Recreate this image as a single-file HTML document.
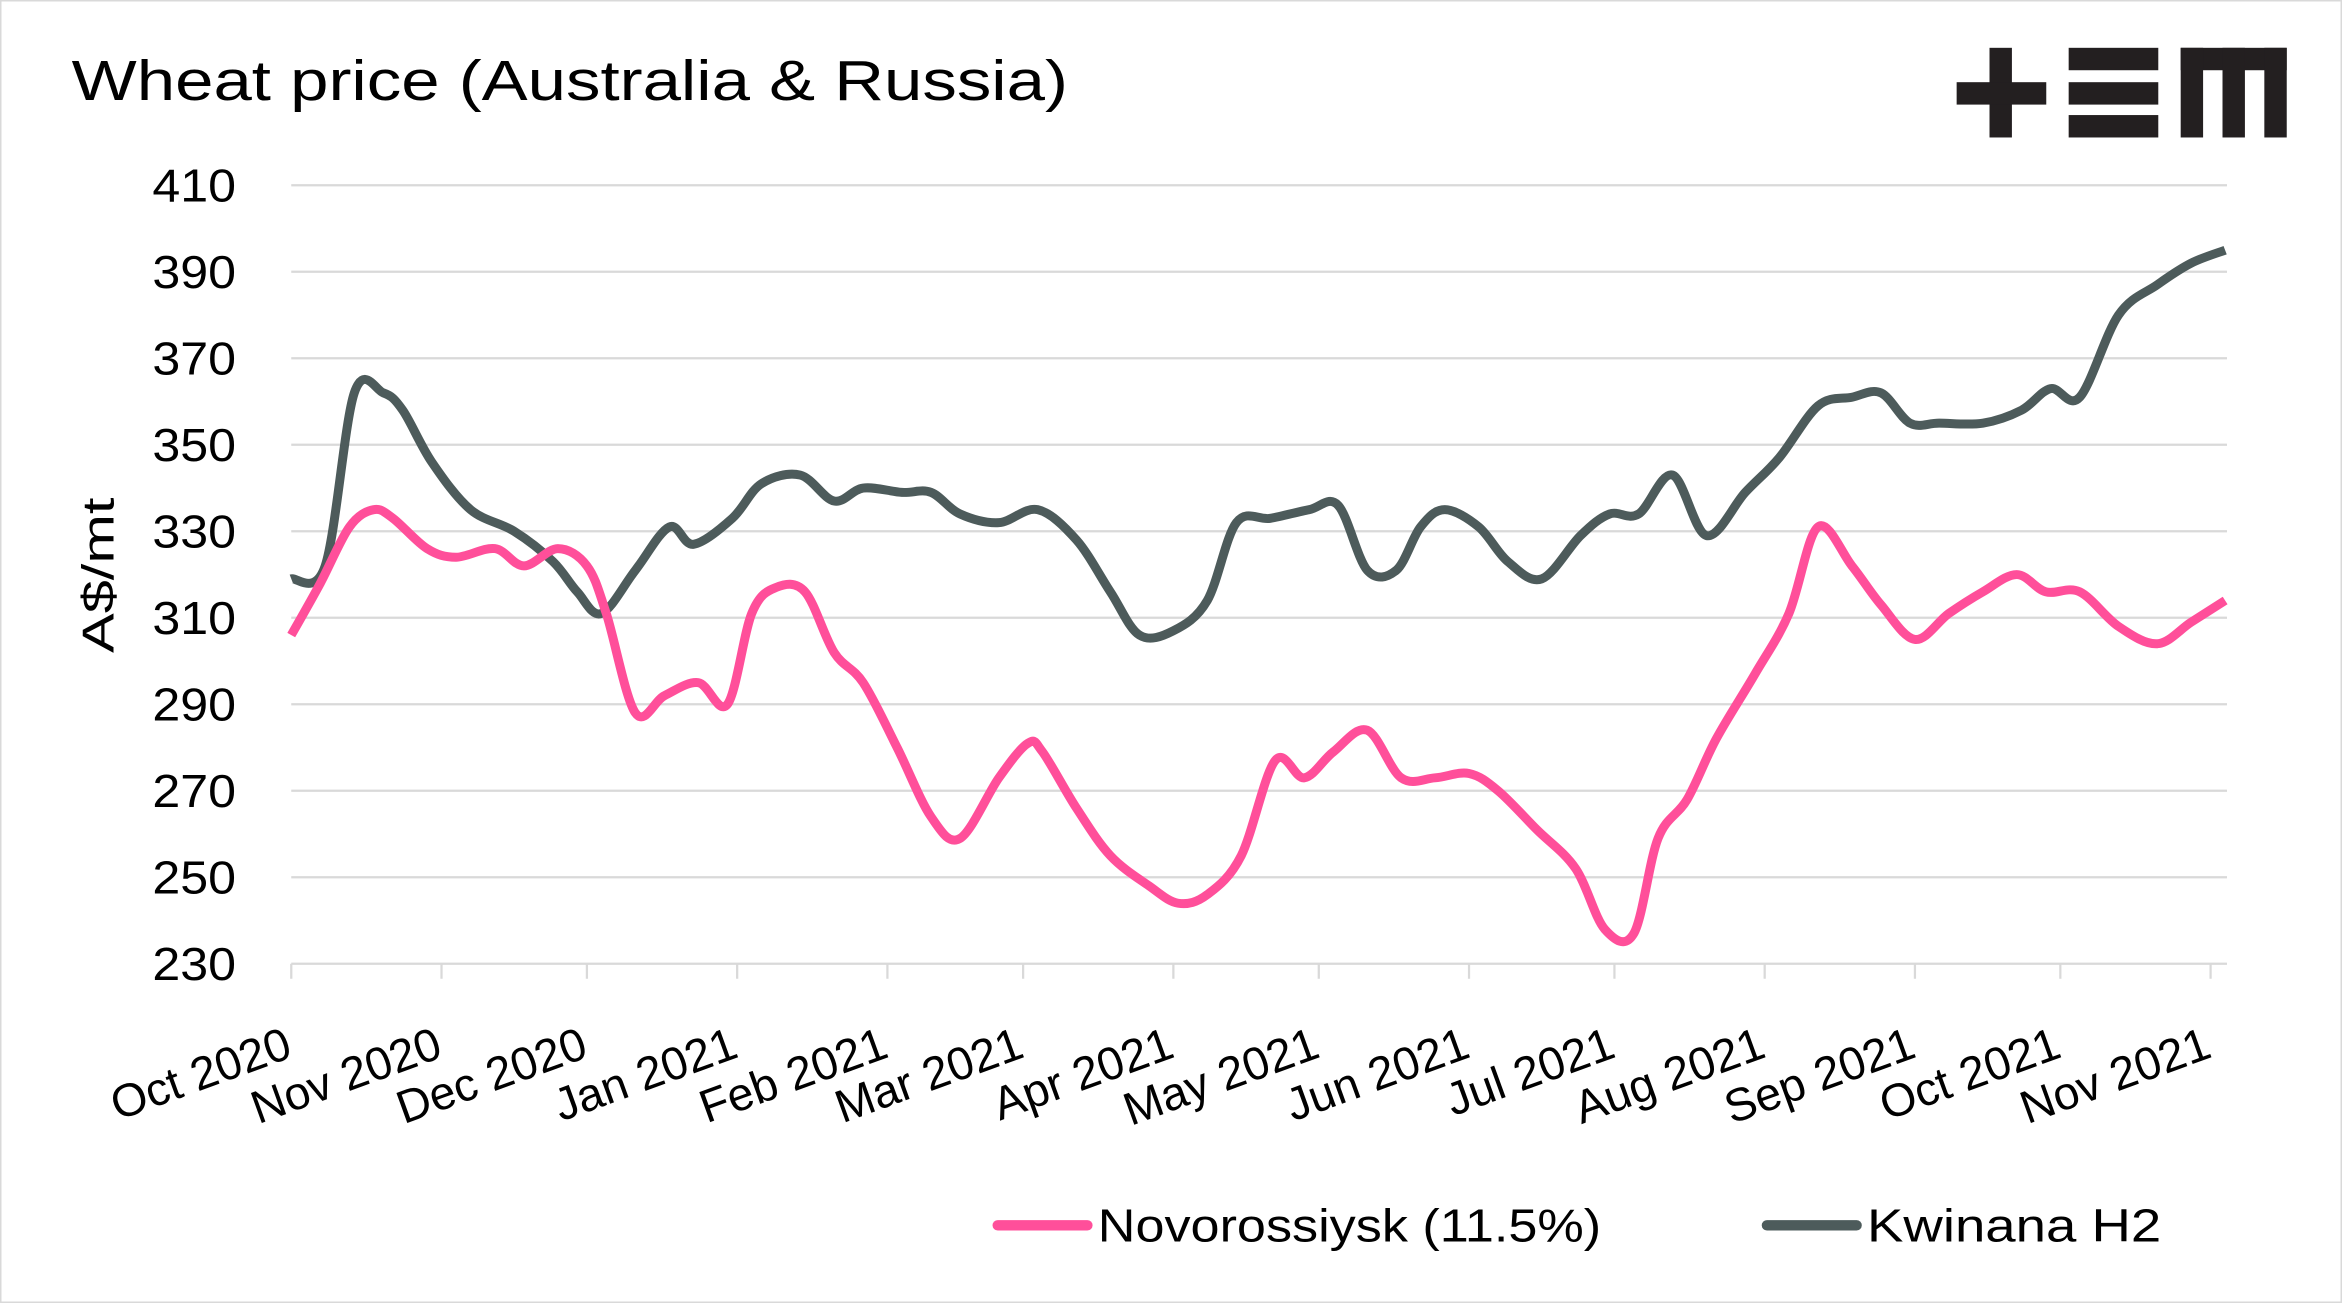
<!DOCTYPE html>
<html><head><meta charset="utf-8"><style>
html,body{margin:0;padding:0;background:#fff}
svg{display:block}
text{font-family:"Liberation Sans",sans-serif;fill:#000}
</style></head><body>
<svg id="chart" width="2342" height="1303" viewBox="0 0 1568 872" preserveAspectRatio="none" xmlns="http://www.w3.org/2000/svg">
<rect x="0.5" y="0.5" width="1567" height="871" fill="#fff" stroke="#d9d9d9"/>
<text x="48" y="67" font-size="38" textLength="667" lengthAdjust="spacingAndGlyphs">Wheat price (Australia &amp; Russia)</text>
<g fill="#231f20">
<rect x="1332" y="32" width="15" height="60"/><rect x="1310" y="55" width="60" height="15"/>
<rect x="1385" y="32" width="60" height="15"/><rect x="1385" y="55" width="60" height="15"/><rect x="1385" y="77" width="60" height="15"/>
<rect x="1460" y="32" width="71" height="15"/><rect x="1460" y="32" width="15" height="60"/><rect x="1488" y="32" width="15" height="60"/><rect x="1516" y="32" width="15" height="60"/>
</g>
<g id="grid"></g><g id="yticks"></g><g id="xaxis"></g><g id="series"></g>
<text transform="translate(76,385) rotate(-90)" text-anchor="middle" font-size="30" textLength="104" lengthAdjust="spacingAndGlyphs">A$/mt</text>
<g>
<g><line x1="668" y1="820" x2="728" y2="820" stroke="#ff4f9a" stroke-width="7" stroke-linecap="round"/><text x="735" y="831" font-size="31" textLength="337" lengthAdjust="spacingAndGlyphs">Novorossiysk (11.5%)</text></g>
<g><line x1="1183" y1="820" x2="1243" y2="820" stroke="#4d5b5b" stroke-width="7" stroke-linecap="round"/><text x="1250" y="831" font-size="31" textLength="197" lengthAdjust="spacingAndGlyphs">Kwinana H2</text></g>
</g>
</svg>
<script>
const yTicks=[230,250,270,290,310,330,350,370,390,410];
const monthLabels=["Oct 2020","Nov 2020","Dec 2020","Jan 2021","Feb 2021","Mar 2021","Apr 2021","May 2021","Jun 2021","Jul 2021","Aug 2021","Sep 2021","Oct 2021","Nov 2021"];
const monthDays=[0,31,61,92,123,151,182,212,243,273,304,335,365,396];
const novoDays=[0,6,12,17,21,28,34,42,48,55,61,65,71,77,84,90,95,100,106,112,118,125,132,138,146,152,155,162,169,177,183,189,196,203,209,215,222,229,236,243,249,257,265,271,277,282,288,294,302,309,315,322,328,335,342,349,356,362,369,377,385,392,399];
const novoVals=[306,318,331,335,333,326,324,326,322,326,322,311,288,292,295,290,311,317,316,302,295,280,264,259,273,281,279,266,255,248,244,246,255,277,273,279,284,273,273,274,270,261,252,238,237,259,268,282,297,311,331,322,313,305,311,316,320,316,316,308,304,309,314];
const kwinDays=[0,7,13,19,23,29,37,46,54,59,64,71,78,83,91,97,105,112,118,126,132,138,146,154,162,169,175,182,189,195,202,210,216,222,228,233,238,245,251,258,266,272,278,285,292,300,307,315,322,328,334,340,349,357,363,369,377,385,392,399];
const kwinVals=[319,322,362,362,358,346,335,330,323,316,311,321,331,327,333,341,343,337,340,339,339,334,332,335,328,316,306,307,314,332,333,335,336,321,321,331,335,331,323,319,329,334,334,343,329,339,347,359,361,362,355,355,355,358,363,361,380,387,392,395];
const NS="http://www.w3.org/2000/svg";
const X0=195,X1=1491,Y0=645,Y1=124;
const xs=d=>X0+d*3.245;
const ys=v=>Y0-(v-230)/(410-230)*(Y0-Y1);
function mk(t,a,p){const e=document.createElementNS(NS,t);for(const k in a)e.setAttribute(k,a[k]);document.getElementById(p).appendChild(e);return e;}
yTicks.forEach(v=>{
 if(v>230){const g=mk('line',{x1:X0,x2:X1,y1:ys(v),y2:ys(v),stroke:'#d9d9d9','stroke-width':1.5},'grid');
 
 }
 const t=mk('text',{x:158,y:ys(v)+11,'text-anchor':'end','font-size':31,textLength:56,lengthAdjust:'spacingAndGlyphs'},'yticks');t.textContent=v;
 
 
});
const ax=mk('line',{x1:X0,x2:X1,y1:Y0,y2:Y0,stroke:'#d9d9d9','stroke-width':1.5},'xaxis');


monthDays.forEach((d,i)=>{
 const tk=mk('line',{x1:xs(d),x2:xs(d),y1:Y0,y2:Y0+10,stroke:'#d9d9d9','stroke-width':1.5},'xaxis');
 
 
 const t=mk('text',{transform:`translate(${xs(d)+2},${Y0+62}) rotate(-20)`,'text-anchor':'end','font-size':31},'xaxis');
 t.textContent=monthLabels[i];
 
 
});
function path(days,vals){
 const p=days.map((d,i)=>[xs(d),ys(vals[i])]);
 let s=`M${p[0][0]},${p[0][1]}`;
 for(let i=0;i<p.length-1;i++){
  const a=p[Math.max(0,i-1)],b=p[i],c=p[i+1],e=p[Math.min(p.length-1,i+2)];
  const c1=[b[0]+(c[0]-a[0])/6,b[1]+(c[1]-a[1])/6],c2=[c[0]-(e[0]-b[0])/6,c[1]-(e[1]-b[1])/6];
  s+=`C${c1[0]},${c1[1]} ${c2[0]},${c2[1]} ${c[0]},${c[1]}`;
 }
 return s;
}
const l1=mk('path',{d:path(kwinDays,kwinVals),fill:'none',stroke:'#4d5b5b','stroke-width':6,'stroke-linejoin':'round'},'series');


const l2=mk('path',{d:path(novoDays,novoVals),fill:'none',stroke:'#ff4f9a','stroke-width':6,'stroke-linejoin':'round'},'series');


</script>
</body></html>
